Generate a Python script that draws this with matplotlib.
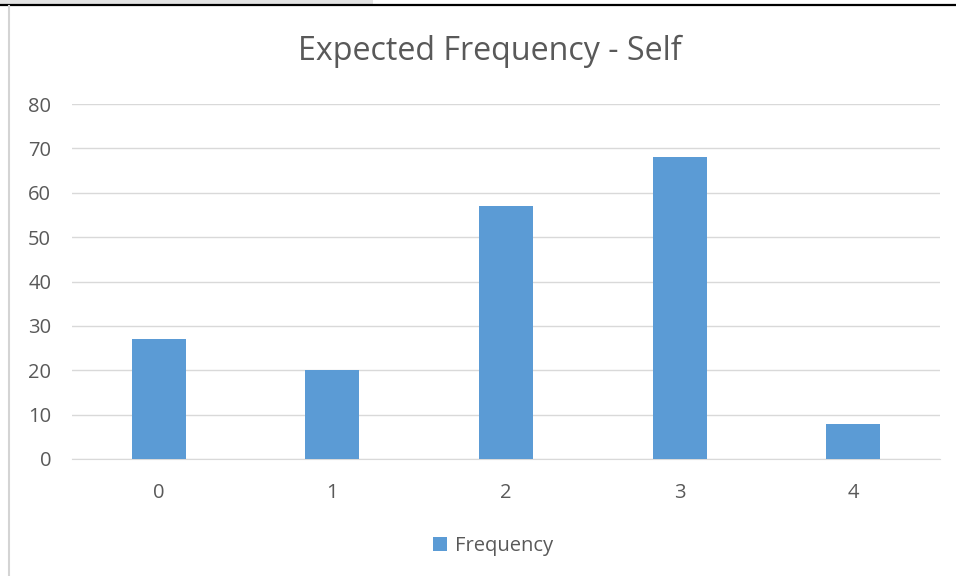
import matplotlib.pyplot as plt
from matplotlib.lines import Line2D
from matplotlib.patches import Rectangle

categories = ["0", "1", "2", "3", "4"]
frequency = [27, 20, 57, 68, 8]
yticks = [0, 10, 20, 30, 40, 50, 60, 70, 80]

plt.rcParams['font.family'] = ['Open Sans', 'DejaVu Sans']

W, H = 956, 576
fig = plt.figure(figsize=(W / 100, H / 100), dpi=100)

# screenshot frame bits
fig.add_artist(Rectangle((0, 1 - 4 / H), 373 / W, 4 / H, transform=fig.transFigure,
                         color="#e3e3e3", lw=0))
fig.add_artist(Line2D([0, 1], [1 - 5 / H, 1 - 5 / H], transform=fig.transFigure,
                      color="black", lw=1.6))
fig.add_artist(Line2D([8.5 / W, 8.5 / W], [0, 1 - 6 / H], transform=fig.transFigure,
                      color="#d4d4d4", lw=1.5))

ax = fig.add_axes([72 / W, 1 - 459 / H, (940 - 72) / W, (459 - 104) / H])
x = range(len(categories))
bars = ax.bar(x, frequency, width=0.31, color="#5B9BD5", label="Frequency", zorder=3)

ax.set_xlim(-0.5, 4.5)
ax.set_ylim(0, 80)
ax.set_yticks(yticks)
ax.set_xticks(list(x))
ax.set_xticklabels(categories)
ax.grid(axis="y", color="#d9d9d9", lw=1, zorder=0)
for s in ["top", "right", "left"]:
    ax.spines[s].set_visible(False)
ax.spines["bottom"].set_color("#d9d9d9")
ax.tick_params(length=0, labelsize=14.5, colors="#595959")
ax.tick_params(axis="y", pad=15)
ax.tick_params(axis="x", pad=17)

fig.text(490 / W, 1 - 51 / H, "Expected Frequency - Self", ha="center", va="center",
         fontsize=23.2, color="#595959")

ax.legend(loc="center", bbox_to_anchor=(493 / W, 1 - 546 / H), bbox_transform=fig.transFigure,
          frameon=False, fontsize=14.5, labelcolor="#595959", handlelength=0.7,
          handleheight=0.7, handletextpad=0.4)

fig.savefig("out.png", dpi=100)
